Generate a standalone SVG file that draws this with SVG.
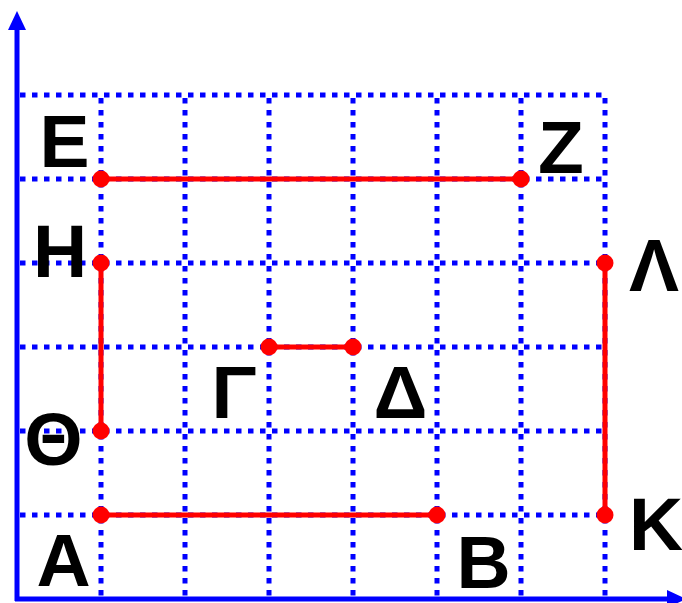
<svg xmlns="http://www.w3.org/2000/svg" width="682" height="603" viewBox="0 0 682 603">
<style>
.grid{stroke:#0000ff;stroke-width:5;stroke-dasharray:5.5 6.5;fill:none}
.axis{stroke:#0000ff;stroke-width:5;fill:none}
.seg{stroke:#ff0000;stroke-width:5;fill:none}
.pt{fill:#ff0000}
.lbl{font-family:"Liberation Sans",Arial,sans-serif;font-weight:bold;font-size:75px;fill:#000;text-anchor:middle}
</style>
<rect width="682" height="603" fill="#fff"/>
<g id="grid">
<line class="grid" x1="20" y1="95" x2="605" y2="95"/>
<line class="grid" x1="20" y1="179" x2="605" y2="179"/>
<line class="grid" x1="20" y1="263" x2="605" y2="263"/>
<line class="grid" x1="20" y1="347" x2="605" y2="347"/>
<line class="grid" x1="20" y1="431" x2="605" y2="431"/>
<line class="grid" x1="20" y1="515" x2="605" y2="515"/>
<line class="grid" x1="101" y1="98" x2="101" y2="599"/>
<line class="grid" x1="185" y1="98" x2="185" y2="599"/>
<line class="grid" x1="269" y1="98" x2="269" y2="599"/>
<line class="grid" x1="353" y1="98" x2="353" y2="599"/>
<line class="grid" x1="437" y1="98" x2="437" y2="599"/>
<line class="grid" x1="521" y1="98" x2="521" y2="599"/>
<line class="grid" x1="605" y1="98" x2="605" y2="599"/>
</g>
<g id="axes">
<line class="axis" x1="17" y1="601" x2="17" y2="26"/>
<polygon points="17,11 8,30 26,30" fill="#0000ff"/>
<line class="axis" x1="15" y1="599" x2="670" y2="599"/>
<polygon points="686,599 667,590 667,608" fill="#0000ff"/>
</g>
<g id="connectors">
<line class="seg" x1="101" y1="179" x2="521" y2="179"/>
<line class="seg" x1="101" y1="263" x2="101" y2="431"/>
<line class="seg" x1="269" y1="347" x2="353" y2="347"/>
<line class="seg" x1="101" y1="515" x2="437" y2="515"/>
<line class="seg" x1="605" y1="263" x2="605" y2="515"/>
</g>
<g id="E"><circle class="pt" cx="101" cy="179" r="8.5"/><text class="lbl" x="64.5" y="167">E</text></g>
<g id="Z"><circle class="pt" cx="521" cy="179" r="8.5"/><text class="lbl" x="561" y="173">Z</text></g>
<g id="H"><circle class="pt" cx="101" cy="263" r="8.5"/><text class="lbl" x="60" y="277">H</text></g>
<g id="Lambda"><circle class="pt" cx="605" cy="263" r="8.5"/><text class="lbl" x="654" y="291">Λ</text></g>
<g id="Gamma"><circle class="pt" cx="269" cy="347" r="8.5"/><text class="lbl" x="234" y="418">Γ</text></g>
<g id="Delta"><circle class="pt" cx="353" cy="347" r="8.5"/><text class="lbl" x="400.5" y="418">Δ</text></g>
<g id="Theta"><circle class="pt" cx="101" cy="431" r="8.5"/><text class="lbl" x="53.5" y="465">Θ</text></g>
<g id="A"><circle class="pt" cx="101" cy="515" r="8.5"/><text class="lbl" x="63.5" y="586">A</text></g>
<g id="B"><circle class="pt" cx="437" cy="515" r="8.5"/><text class="lbl" x="483.5" y="588">B</text></g>
<g id="K"><circle class="pt" cx="605" cy="515" r="8.5"/><text class="lbl" x="656" y="550">K</text></g>
</svg>
